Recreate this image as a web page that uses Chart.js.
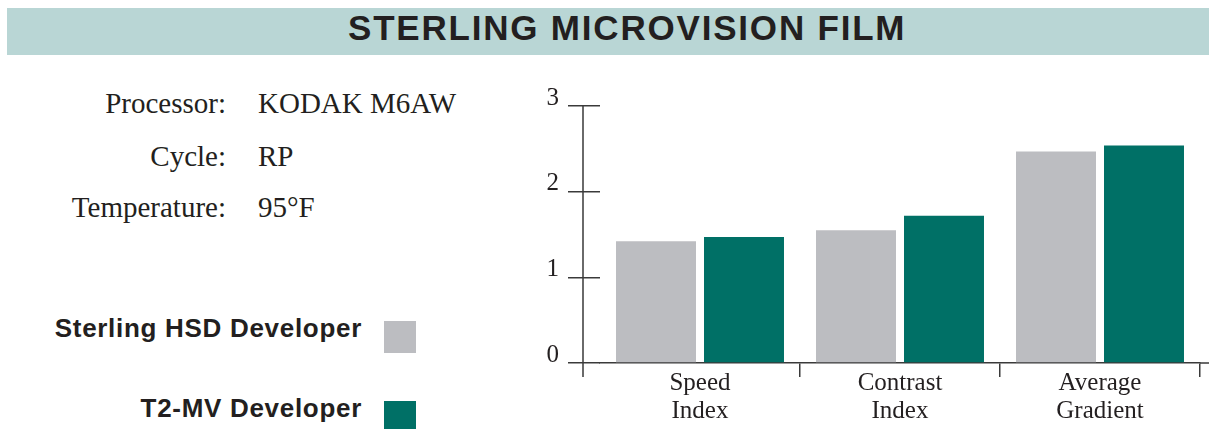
<!DOCTYPE html>
<html>
<head>
<meta charset="utf-8">
<title>Sterling Microvision Film</title>
<script src="https://cdn.jsdelivr.net/npm/chart.js@4"></script>
<style>
  html, body { margin: 0; padding: 0; background: #fff; }
  body { width: 1209px; height: 429px; position: relative; overflow: hidden; }
  .band { position: absolute; left: 7px; top: 8px; width: 1202px; height: 47px; background: #b9d6d5; }
  .band span {
    position: absolute; left: 341px; top: 0; width: 552px; text-align: center;
    font: bold 35px "Liberation Sans", Arial, sans-serif; letter-spacing: 1.8px;
    color: #231f20; line-height: 40px; white-space: nowrap;
  }
  .info { position: absolute; font: 29px "Liberation Serif", "Times New Roman", serif; line-height: 34px; color: #231f20; white-space: nowrap; }
  .info.k { text-align: right; }
  .legend .txt {
    position: absolute; font: bold 26px "Liberation Sans", Arial, sans-serif; letter-spacing: 0.7px;
    line-height: 30px; color: #231f20; white-space: nowrap; text-align: right; width: 400px;
  }
  .legend .box { position: absolute; width: 32px; height: 32px; }
  #wrap { position: absolute; left: 480px; top: 0; width: 729px; height: 429px; }
</style>
</head>
<body>
<div class="band"><span>STERLING MICROVISION FILM</span></div>
<div id="info"></div>
<div id="legend" class="legend"></div>
<div id="wrap"><canvas id="filmChart"></canvas></div>
<script>
// Chart data
const categories = [['Speed', 'Index'], ['Contrast', 'Index'], ['Average', 'Gradient']];
const seriesNames = ['Sterling HSD Developer', 'T2-MV Developer'];
const hsdValues = [1.42, 1.55, 2.47];
const t2mvValues = [1.47, 1.72, 2.54];
const yTicks = [0, 1, 2, 3];
const seriesColors = ['#bcbdc1', '#007066'];

// Processing conditions shown at left
const infoKeys = ['Processor:', 'Cycle:', 'Temperature:'];
const infoValues = ['KODAK M6AW', 'RP', '95°F'];
const infoTops = [86, 139, 190];

// build the info block
const info = document.getElementById('info');
infoKeys.forEach((k, i) => {
    const key = document.createElement('div');
    key.className = 'info k';
    key.style.left = '0px';
    key.style.width = '226px';
    key.style.top = infoTops[i] + 'px';
    key.textContent = k;
    const val = document.createElement('div');
    val.className = 'info';
    val.style.left = '258px';
    val.style.top = infoTops[i] + 'px';
    val.textContent = infoValues[i];
    info.appendChild(key);
    info.appendChild(val);
});

// legend on the left, text right-aligned with swatch after it
const legend = document.getElementById('legend');
seriesNames.forEach((name, i) => {
    const t = document.createElement('div');
    t.className = 'txt';
    t.style.left = '-38px';
    t.style.top = (313 + i * 80) + 'px';
    t.textContent = name;
    const b = document.createElement('div');
    b.className = 'box';
    b.style.left = '384px';
    b.style.top = (321 + i * 80) + 'px';
    b.style.background = seriesColors[i];
    legend.appendChild(t);
    legend.appendChild(b);
});

const axisColor = '#3a3a3a';

// the vertical axis in the original sits a little left of the first category,
// and the baseline runs on to the page edge
const axisLines = {
    id: 'axisLines',
    afterDraw(chart) {
        const { ctx, chartArea, scales } = chart;
        const x = chartArea.left - 17;
        ctx.save();
        ctx.strokeStyle = axisColor;
        ctx.lineWidth = 1.5;
        ctx.beginPath();
        ctx.moveTo(x, scales.y.getPixelForValue(yTicks[yTicks.length - 1]));
        ctx.lineTo(x, chartArea.bottom + 14);
        ctx.moveTo(chartArea.right, chartArea.bottom);
        ctx.lineTo(chart.width, chartArea.bottom);
        ctx.stroke();
        ctx.restore();
    }
};

const ctx = document.getElementById('filmChart').getContext('2d');

new Chart(ctx, {
    type: 'bar',
    data: {
        labels: categories,
        datasets: [
            { label: seriesNames[0], data: hsdValues, backgroundColor: seriesColors[0] },
            { label: seriesNames[1], data: t2mvValues, backgroundColor: seriesColors[1] }
        ]
    },
    options: {
        responsive: true,
        maintainAspectRatio: false,
        animation: false,
        categoryPercentage: 0.88,
        barPercentage: 0.909,
        layout: { padding: { top: 106, right: 9, left: 0, bottom: 0 } },
        plugins: {
            legend: { display: false },
            tooltip: { enabled: false }
        },
        scales: {
            x: {
                grid: {
                    offset: true,
                    drawOnChartArea: false,
                    tickLength: 14,
                    lineWidth: 1.5,
                    color: (c) => c.index === 0 ? 'rgba(0,0,0,0)' : axisColor
                },
                border: { display: true, color: axisColor, width: 1.5 },
                ticks: {
                    color: '#231f20',
                    padding: -8,
                    maxRotation: 0,
                    font: { family: '"Liberation Serif", "Times New Roman", serif', size: 25, lineHeight: 1.12 }
                },
                afterFit: (scale) => { scale.height = 66; }
            },
            y: {
                min: 0,
                max: 3,
                afterBuildTicks: (scale) => { scale.ticks = yTicks.map(v => ({ value: v })); },
                grid: {
                    drawOnChartArea: false,
                    tickLength: 32,
                    lineWidth: 1.5,
                    color: axisColor
                },
                border: { display: false },
                ticks: {
                    color: '#231f20',
                    padding: 9,
                    labelOffset: -8,
                    font: { family: '"Liberation Serif", "Times New Roman", serif', size: 25 }
                },
                afterFit: (scale) => { scale.width = 120; }
            }
        }
    },
    plugins: [axisLines]
});
</script>
</body>
</html>
